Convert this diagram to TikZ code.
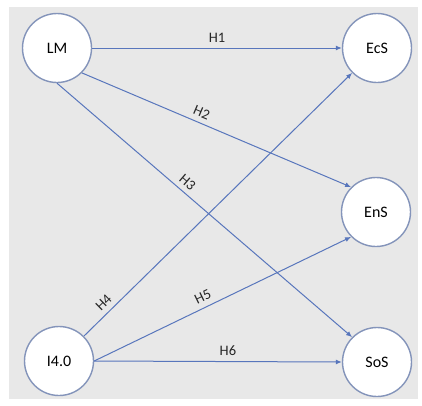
\documentclass[tikz,border=0pt]{standalone}
\usepackage{fontspec}
\setmainfont{Carlito}
\usepackage{tikz}
\usetikzlibrary{arrows.meta}
\definecolor{pathblue}{RGB}{88,118,188}
\definecolor{ringgray}{RGB}{132,148,186}
\definecolor{panelgray}{RGB}{232,232,232}
\tikzset{
  construct/.style={circle, draw=ringgray, line width=1.4pt, fill=white,
    minimum size=69pt, inner sep=0pt, font=\fontsize{16}{18}\selectfont},
  hyp/.style={-{Latex[length=6pt,width=5pt]}, pathblue, line width=1pt},
  hlabel/.style={sloped, above, black!85, font=\fontsize{14.5}{16}\selectfont, inner sep=5pt}
}
\begin{document}
\begin{tikzpicture}[x=1pt, y=-1pt]

  \useasboundingbox (0,0) rectangle (422,405);
  % panel
  \fill[panelgray] (9,7) rectangle (418,399);

  % constructs
  \node[construct] (LM)  at (57,48)  {LM};
  \node[construct] (I40) at (59,361) {I4.0};
  \node[construct] (EcS) at (377,48) {EcS};
  \node[construct] (EnS) at (376,212) {EnS};
  \node[construct] (SoS) at (377,362) {SoS};

  % hypotheses
  \draw[hyp] (LM.east) -- node[hlabel, pos=0.5] {H1} (EcS.west);
  \draw[hyp] (LM.south east) -- node[hlabel, pos=0.43] {H2} (EnS.north west);
  \draw[hyp] (LM.south) -- node[hlabel, pos=0.42] {H3} (SoS.north west);
  \draw[hyp] (I40.north east) -- node[hlabel, pos=0.1] {H4} (EcS.south west);
  \draw[hyp] (I40.east) -- node[hlabel, pos=0.44] {H5} (EnS.south west);
  \draw[hyp] (I40.east) -- node[hlabel, pos=0.54] {H6} (SoS.west);

\end{tikzpicture}
\end{document}
